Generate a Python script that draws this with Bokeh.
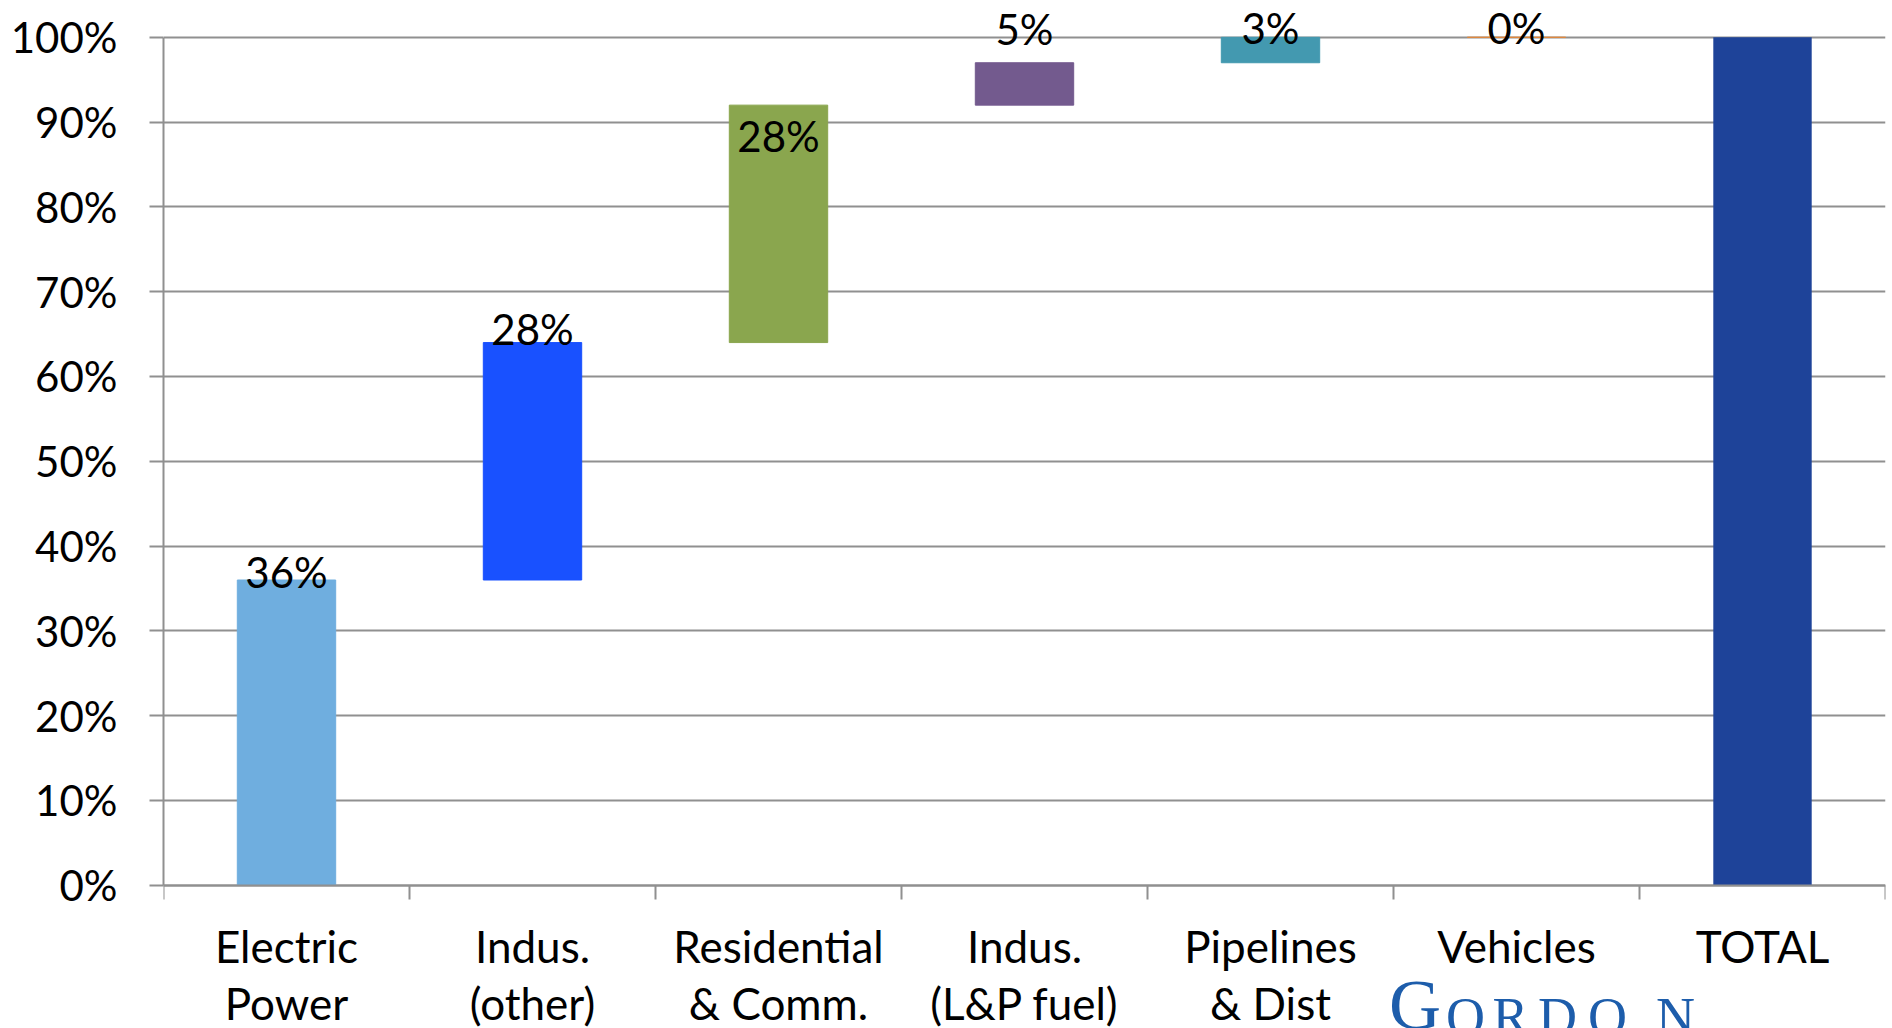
import numpy as np
from bokeh.plotting import figure
from bokeh.models import ColumnDataSource, Range1d, FixedTicker, PrintfTickFormatter, Label
from bokeh.core.properties import value
from bokeh.embed import file_html
from bokeh.resources import INLINE

# Share of natural gas use by sector (percent), drawn as a waterfall that ends in the total
sectors = ["Electric\nPower", "Indus.\n(other)", "Residential\n& Comm.",
           "Indus.\n(L&P fuel)", "Pipelines\n& Dist", "Vehicles"]
shares = [36, 28, 28, 5, 3, 0]
total_name = "TOTAL"
total_share = 100
y_tick_values = list(range(0, 101, 10))

# styling
sector_colors = ["#6FAEDF", "#1951FF", "#8AA64E", "#735A8E", "#4399B0", "#E0883B"]
total_color = "#1E4399"
grid_color = "#909090"
label_font = "Lato"
value_size = "42px"
category_size = "44px"
# per-label vertical nudge in screen pixels (positive moves down)
label_nudge = [-8, -14, 31, -34, -9, -9]

n = len(sectors)
centers = np.arange(n) + 0.5
tops = np.cumsum(shares)
bottoms = tops - np.array(shares)

src = ColumnDataSource(dict(
    x=centers, bottom=bottoms, top=tops, color=sector_colors,
    label=[f"{s}%" for s in shares], dy=label_nudge,
))

# the plot area runs to the bottom edge; the x axis is pinned at 0 so that
# its labels sit below the bars without shrinking the plot area
p = figure(width=1892, height=1028,
           x_range=Range1d(0, n + 1), y_range=Range1d(-16.89, 104.34),
           output_backend="svg", toolbar_location=None,
           min_border_left=163, min_border_right=7,
           min_border_top=0, min_border_bottom=0)
p.outline_line_color = None
p.background_fill_color = "white"
p.border_fill_color = "white"

# sector steps
p.vbar(x="x", bottom="bottom", top="top", width=0.4, fill_color="color",
       line_color="color", line_width=1, source=src)
# total column
p.vbar(x=[n + 0.5], bottom=[0], top=[total_share], width=0.4,
       fill_color=total_color, line_color=None)

# value labels
p.text(x="x", y="top", text="label", y_offset="dy", source=src,
       text_align="center", text_baseline="alphabetic",
       text_font=value(label_font), text_font_size=value_size, text_color="black")

# x axis: labels at bar centres, tick marks on category boundaries
xax = p.xaxis[0]
xax.fixed_location = 0
all_centers = list(centers) + [n + 0.5]
all_names = sectors + [total_name]
xax.ticker = FixedTicker(ticks=all_centers, minor_ticks=list(range(0, n + 2)))
xax.major_label_overrides = {float(c): name for c, name in zip(all_centers, all_names)}
xax.major_tick_out = 0
xax.major_tick_in = 0
xax.minor_tick_out = 14
xax.minor_tick_in = 0
xax.minor_tick_line_color = grid_color
xax.minor_tick_line_width = 2
xax.axis_line_color = grid_color
xax.axis_line_width = 2
xax.major_label_text_font = label_font
xax.major_label_text_font_size = category_size
xax.major_label_text_color = "black"
xax.major_label_text_line_height = 1.1
xax.major_label_standoff = 21

# y axis
yax = p.yaxis[0]
yax.ticker = FixedTicker(ticks=y_tick_values)
yax.formatter = PrintfTickFormatter(format="%d%%")
yax.bounds = (0, 100)
yax.major_tick_out = 14
yax.major_tick_in = 0
yax.minor_tick_out = 0
yax.minor_tick_in = 0
yax.major_tick_line_color = grid_color
yax.major_tick_line_width = 2
yax.axis_line_color = grid_color
yax.axis_line_width = 2
yax.major_label_text_font = label_font
yax.major_label_text_font_size = value_size
yax.major_label_text_color = "black"
yax.major_label_standoff = 32

p.xgrid.visible = False
p.ygrid.grid_line_color = grid_color
p.ygrid.grid_line_width = 2

# wordmark in the lower right
logo_color = "#1D5DAB"
logo_letters = ["G", "O", "R", "D", "O", "N"]
logo_x = [5.087, 5.293, 5.476, 5.667, 5.870, 6.146]
logo_y = [-14.15, -15.52, -15.52, -15.52, -15.52, -15.52]
logo_sizes = ["72px", "54px", "54px", "54px", "54px", "54px"]
for ch, lx, ly, fs in zip(logo_letters, logo_x, logo_y, logo_sizes):
    p.add_layout(Label(x=lx, y=ly, text=ch, text_align="center",
                       text_baseline="alphabetic", text_font="Liberation Serif",
                       text_font_size=fs, text_color=logo_color))

open("out.html", "w").write(file_html(p, INLINE))
